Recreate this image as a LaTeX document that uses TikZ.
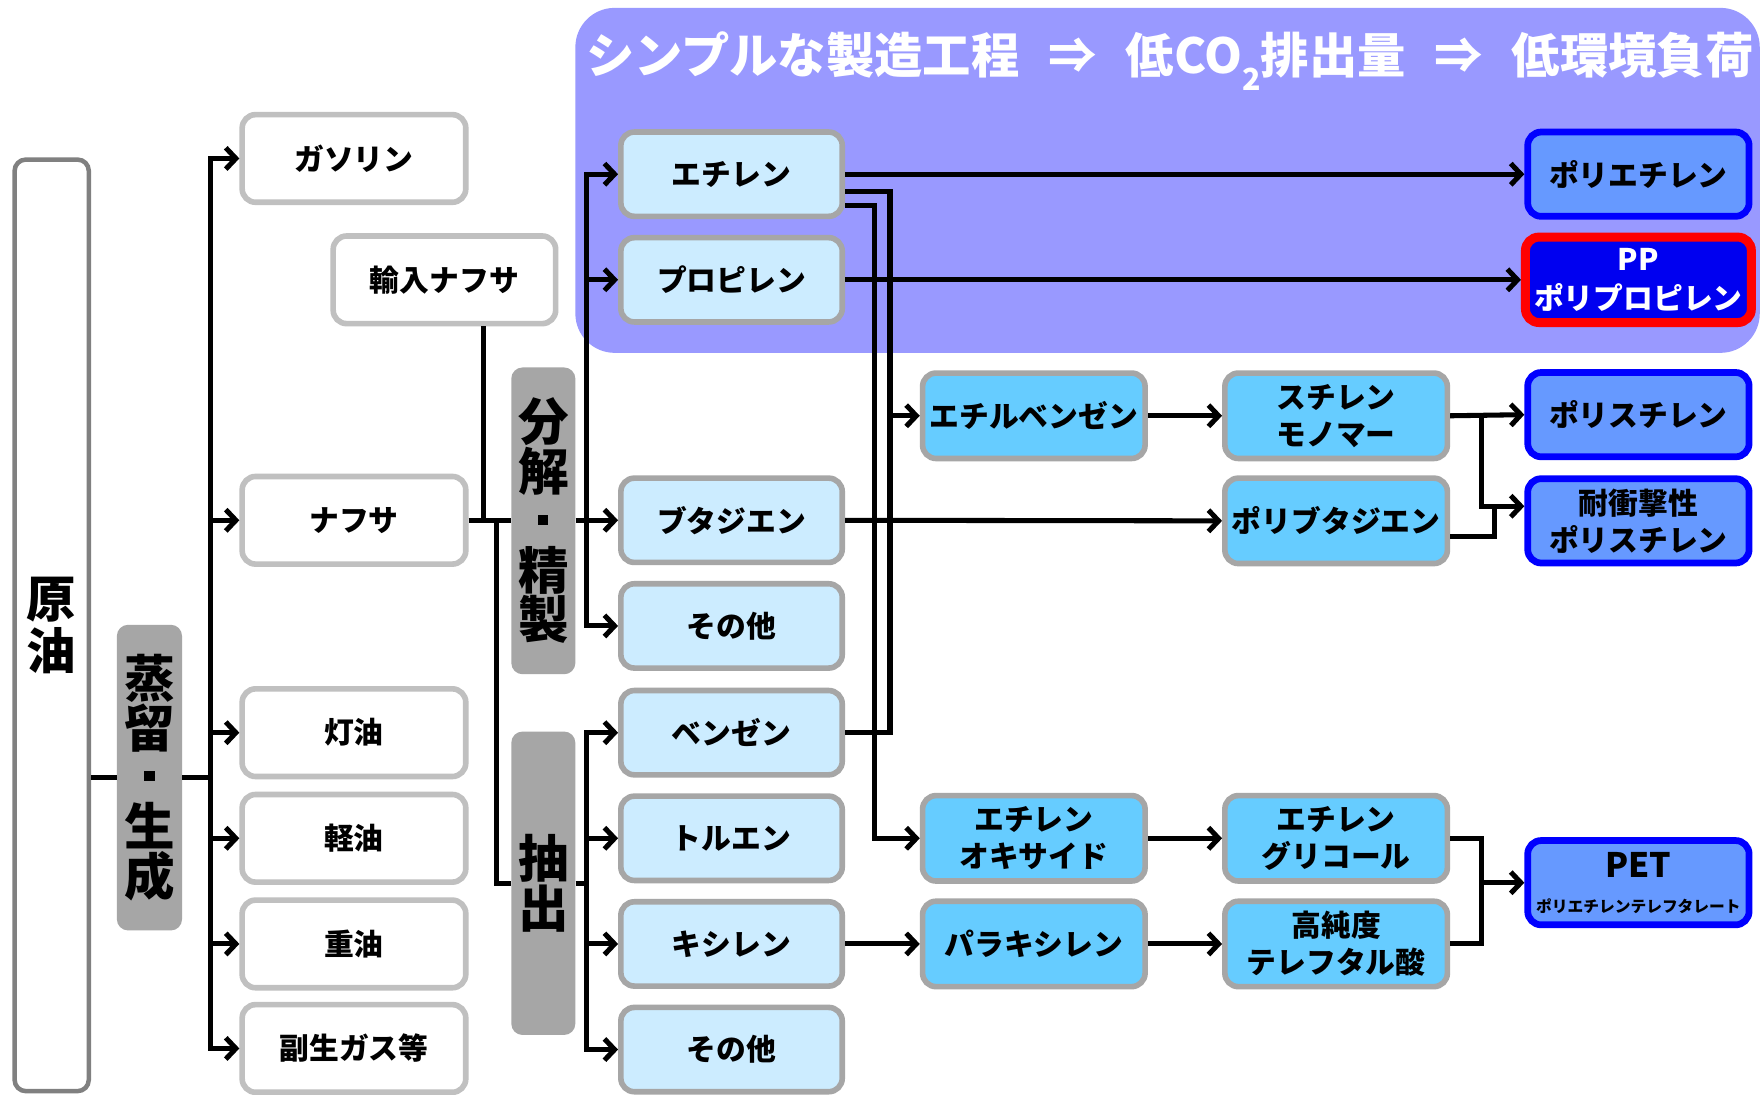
\documentclass[tikz,border=0pt]{standalone}
\usepackage{fontspec}
\setmainfont{Noto Sans CJK JP}
\usetikzlibrary{arrows.meta,calc}
\definecolor{purp}{HTML}{9999FF}
\definecolor{lb}{HTML}{CCECFF}
\definecolor{mb}{HTML}{66CCFF}
\definecolor{pb}{HTML}{6699FF}
\definecolor{bordgray}{HTML}{A6A6A6}
\definecolor{wgray}{HTML}{C0C0C0}
\definecolor{dgray}{HTML}{808080}
\definecolor{ppblue}{HTML}{0000F0}
\newcommand{\fs}[2]{\fontsize{#1}{#2}\selectfont}
\newcommand{\sqdot}{\rule[0.3em]{9pt}{9pt}}
\begin{document}
\begin{tikzpicture}[x=1pt,y=-1pt,
  ln/.style={line width=4.5, line join=miter},
  arr/.style={ln,-{Straight Barb[length=9pt,width=19pt]}},
  boxbase/.style={line width=5, rounded corners=12, font=\fs{26.5}{33}\bfseries, align=center, inner sep=0},
  wbox/.style={boxbase, draw=wgray, fill=white, minimum width=199, minimum height=78},
  lbbox/.style={boxbase, draw=bordgray, fill=lb, minimum width=197, minimum height=75},
  mbbox/.style={boxbase, draw=bordgray, fill=mb, minimum width=198, minimum height=76},
  pbbox/.style={boxbase, draw=blue, line width=6, fill=pb, minimum width=197, minimum height=75},
  gbox/.style={draw=none, fill=bordgray, rounded corners=10, font=\fs{45}{44}\bfseries, align=center, inner sep=0}
]
\useasboundingbox (0,0) rectangle (1568,974);
\fill[white] (0,0) rectangle (1568,974);
% purple area
\node[fill=purp, rounded corners=35, minimum width=1054, minimum height=307, inner sep=0] (panel) at (1039,160.5) {};
\node[text=white, font=\fs{43}{46}\bfseries, inner sep=0] (title) at (1041,54)
  {シンプルな製造工程\hspace{0.6em}⇒\hspace{0.6em}低CO\raisebox{-0.35em}{\fs{27}{27}2}排出量\hspace{0.6em}⇒\hspace{0.6em}低環境負荷};

% left column
\node[draw=dgray, line width=4, fill=white, rounded corners=10, minimum width=66, minimum height=829, font=\fs{44}{46}\bfseries, align=center, inner sep=0] (crude) at (46,556.5) {原\\油};
\node[gbox, minimum width=58, minimum height=272] (dist) at (133,692) {蒸\\留\\\sqdot\\生\\成};

\node[wbox] (gasoline) at (315,141) {ガソリン};
\node[wbox, minimum width=198] (import) at (395.5,249) {輸入ナフサ};
\node[wbox] (naphtha) at (315,463) {ナフサ};
\node[wbox] (kerosene) at (315,652) {灯油};
\node[wbox] (gasoil) at (315,746) {軽油};
\node[wbox] (heavy) at (315,840) {重油};
\node[wbox] (byprod) at (315,933) {副生ガス等};

\node[gbox, minimum width=57, minimum height=273] (bunkai) at (483.5,463.5) {分\\解\\\sqdot\\精\\製};
\node[gbox, minimum width=57, minimum height=270] (chu) at (483.5,786) {抽\\出};

% middle column
\node[lbbox] (ethylene) at (651,155) {エチレン};
\node[lbbox] (propylene) at (651,249) {プロピレン};
\node[lbbox] (butadiene) at (651,463) {ブタジエン};
\node[lbbox] (other1) at (651,557) {その他};
\node[lbbox] (benzene) at (651,652) {ベンゼン};
\node[lbbox] (toluene) at (651,746) {トルエン};
\node[lbbox] (xylene) at (651,840) {キシレン};
\node[lbbox] (other2) at (651,934) {その他};

\node[mbbox] (eb) at (920,370) {エチルベンゼン};
\node[mbbox] (eo) at (920,746) {エチレン\\オキサイド};
\node[mbbox] (px) at (920,840) {パラキシレン};

\node[mbbox] (sm) at (1189,370) {スチレン\\モノマー};
\node[mbbox] (pbd) at (1189,463.5) {ポリブタジエン};
\node[mbbox] (eg) at (1189,746) {エチレン\\グリコール};
\node[mbbox] (pta) at (1189,840) {高純度\\テレフタル酸};

\node[pbbox] (pe) at (1458,155) {ポリエチレン};
\node[boxbase, draw=red, line width=8, fill=ppblue, minimum width=201, minimum height=76, text=white, font=\fs{26.5}{34}\bfseries] (pp) at (1458,249) {PP\\ポリプロピレン};
\node[pbbox] (ps) at (1458,369) {ポリスチレン};
\node[pbbox] (hips) at (1458,463.5) {耐衝撃性\\ポリスチレン};
\node[pbbox] (pet) at (1458,785.5) {{\fs{30}{32}PET}\\[-2pt]{\fs{14}{18}ポリエチレンテレフタレート}};

% connectors: distillation
\coordinate (ta) at (187,0);
\draw[ln] (dist.west) -- (dist.west -| crude.east);
\draw[ln] (dist.east) -- (dist.east -| ta);
\draw[arr] (dist.east -| ta) |- (gasoline.west);
\draw[arr] (dist.east -| ta) |- (byprod.west);
\draw[arr] (ta |- naphtha.west) -- (naphtha.west);
\draw[arr] (ta |- kerosene.west) -- (kerosene.west);
\draw[arr] (ta |- gasoil.west) -- (gasoil.west);
\draw[arr] (ta |- heavy.west) -- (heavy.west);

% naphtha to cracking / extraction
\coordinate (j1) at (430,0);
\coordinate (j2) at (442,0);
\draw[ln] (naphtha.east) -- (bunkai.west |- naphtha.east);
\draw[ln] (import.south -| j1) -- (naphtha.east -| j1);
\draw[ln] (naphtha.east -| j2) |- (chu.west);

% cracking outputs
\coordinate (k) at (522,0);
\draw[ln] (bunkai.east |- naphtha.east) -- (k |- naphtha.east);
\draw[arr] (k |- naphtha.east) |- (ethylene.west);
\draw[arr] (k |- naphtha.east) |- (other1.west);
\draw[arr] (k |- propylene.west) -- (propylene.west);
\draw[arr] (k |- butadiene.west) -- (butadiene.west);
\draw[ln] (chu.east) -- (chu.east -| k);
\draw[arr] (chu.east -| k) |- (benzene.west);
\draw[arr] (chu.east -| k) |- (other2.west);
\draw[arr] (k |- toluene.west) -- (toluene.west);
\draw[arr] (k |- xylene.west) -- (xylene.west);

% olefins
\draw[arr] (ethylene.east) -- (pe.west);
\draw[arr] (propylene.east) -- (pp.west);
\coordinate (m1) at (792,0);
\coordinate (m2) at (778,0);
\draw[ln] (benzene.east) -| (m1 |- eb.west);
\draw[arr] ($(ethylene.east)+(0,15)$) -| (m1 |- eb.west) -- (eb.west);
\draw[arr] ($(ethylene.east)+(0,28)$) -| (m2 |- eo.west) -- (eo.west);

% aromatics / styrene chain
\draw[arr] (eb.east) -- (sm.west);
\draw[arr] (butadiene.east) -- (pbd.west);
\draw[arr] (sm.east) -- (ps.west);
\coordinate (n1) at (1318,0);
\coordinate (n2) at (1330,0);
\coordinate (hin) at ($(hips.west)+(0,-13)$);
\draw[arr] (sm.east -| n1) |- (hin);
\draw[ln] ($(pbd.east)+(0,14)$) -| (n2 |- hin);

% PET chain
\draw[arr] (eo.east) -- (eg.west);
\draw[arr] (xylene.east) -- (px.west);
\draw[arr] (px.east) -- (pta.west);
\draw[ln] (eg.east) -| (n1 |- pta.east) -- (pta.east);
\draw[arr] (n1 |- pet.west) -- (pet.west);
\end{tikzpicture}
\end{document}
